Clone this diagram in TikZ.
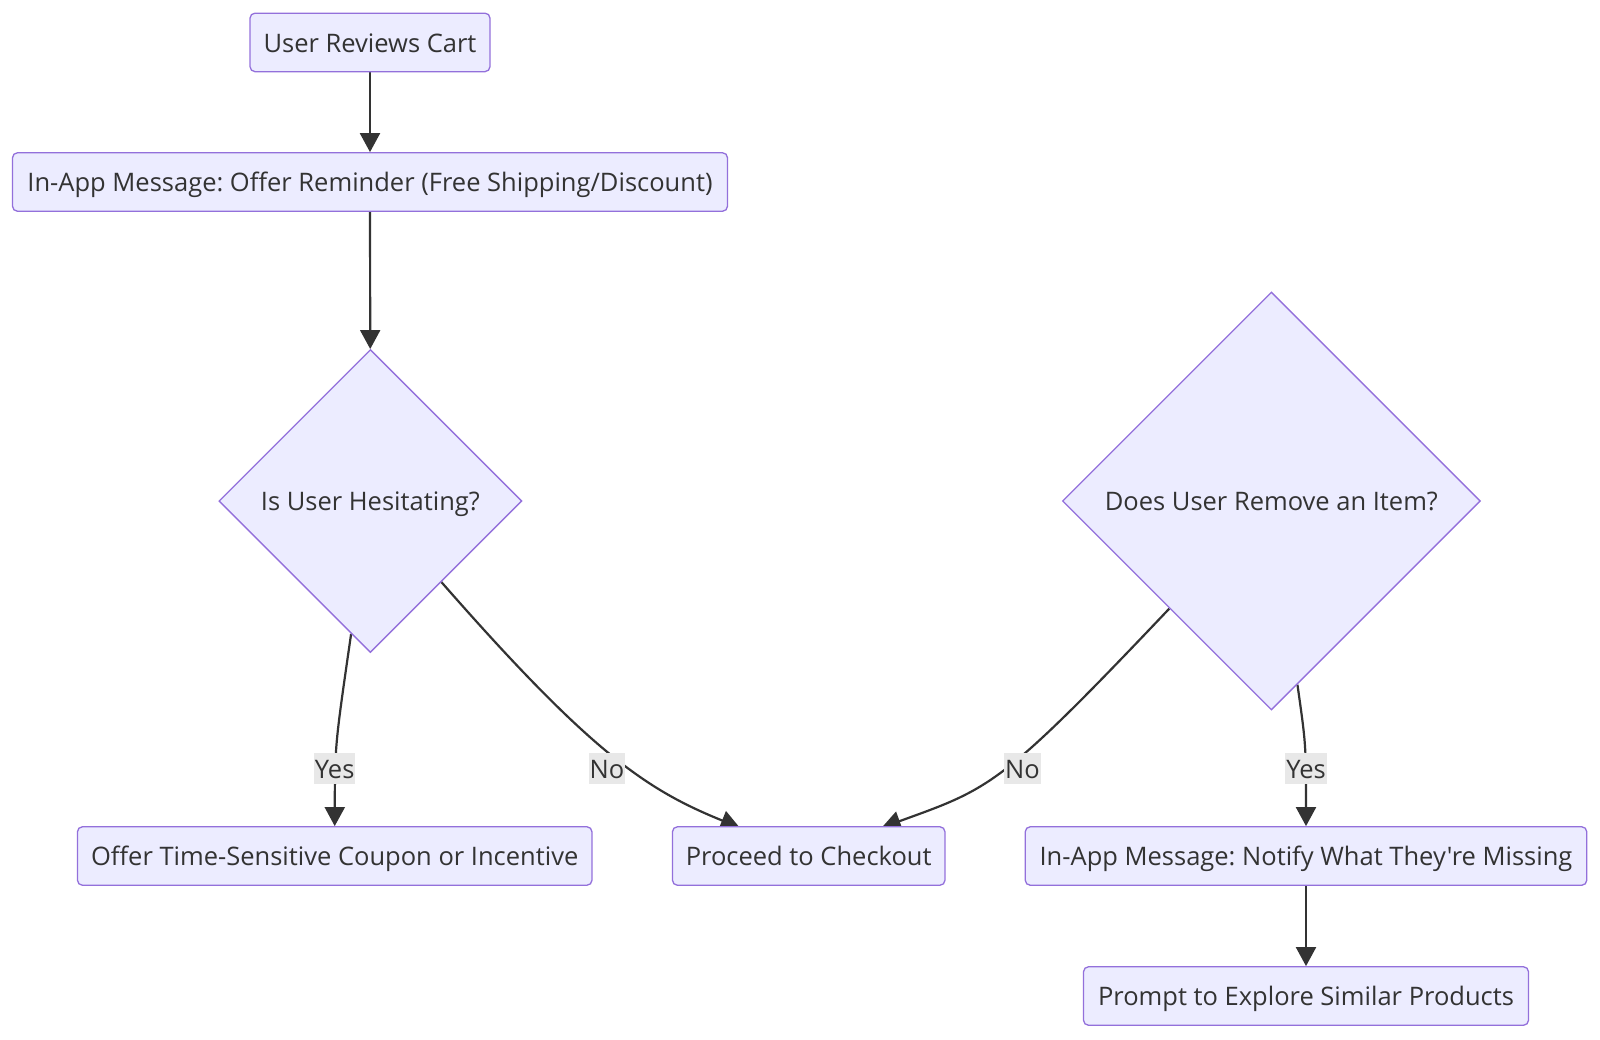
\documentclass[tikz,border=0pt]{standalone}
\usepackage{fontspec}
\setmainfont{Open Sans}[Ligatures=TeXOff]
\frenchspacing
\usetikzlibrary{shapes.geometric,arrows.meta,calc}
\pgfdeclarelayer{bg}
\pgfsetlayers{bg,main}
\definecolor{nodefill}{HTML}{ECECFF}
\definecolor{nodeborder}{HTML}{9370DB}
\definecolor{linecol}{HTML}{333333}
\definecolor{txtcol}{HTML}{333333}
\definecolor{lblbg}{HTML}{E8E8E8}
\tikzset{
  txt/.style={text=txtcol, font=\fontsize{25.5}{30}\selectfont, text height=25pt, text depth=5.6pt},
  box/.style={txt, draw=nodeborder, fill=nodefill, line width=1.3pt, rounded corners=5pt,
    minimum height=58.5pt, inner sep=0pt},
  decision/.style={txt, diamond, aspect=1, draw=nodeborder, fill=nodefill, line width=1.3pt,
    inner sep=0pt},
  edge/.style={draw=linecol, line width=2.2pt, -{Triangle[length=19pt,width=20pt]}},
  elabel/.style={txt, fill=lblbg, inner xsep=1pt, inner ysep=0pt}
}
\begin{document}
\begin{tikzpicture}[x=1pt,y=-1pt]
\useasboundingbox (0,0) rectangle (1600,1039);
\node[box, minimum width=240pt] (cart) at (370,42.4) {User Reviews Cart};
\node[box, minimum width=715pt] (offer) at (370,182) {In-App Message: Offer Reminder (Free Shipping/Discount)};
\node[decision, minimum width=303pt, minimum height=303pt] (d1) at (370.4,501) {Is User Hesitating?};
\node[decision, minimum width=418pt, minimum height=418pt] (d2) at (1271.4,501) {Does User Remove an Item?};
\node[box, minimum width=514.5pt] (coupon) at (334.7,856) {Offer Time-Sensitive Coupon or Incentive};
\node[box, minimum width=272.5pt] (chk) at (808.7,856) {Proceed to Checkout};
\node[box, minimum width=561.5pt] (notify) at (1306,856) {In-App Message: Notify What They're Missing};
\node[box, minimum width=445pt] (prompt) at (1306,996) {Prompt to Explore Similar Products};

\coordinate (chkL) at ($(chk.north)+(-69,1.5)$);
\coordinate (chkR) at ($(chk.north)+(73,1.5)$);

\begin{pgfonlayer}{bg}
\draw[edge] (cart) -- (offer);
\draw[edge] (offer) -- (d1);
\draw[edge] (d1) .. controls (335,745) .. (coupon.north);
\draw[edge] (d1) .. controls (592,754) and (647,790) .. (chkL);
\draw[edge] (d2) .. controls (1000,787) and (991,788) .. (chkR);
\draw[edge] (d2) .. controls (1306,745) .. (notify.north);
\draw[edge] (notify) -- (prompt);
\end{pgfonlayer}

\node[elabel] (l1) at (334.7,768.4) {Yes};
\node[elabel] (l2) at (607,768.4) {No};
\node[elabel] (l3) at (1022.4,768.4) {No};
\node[elabel] (l4) at (1306,768.4) {Yes};
\end{tikzpicture}
\end{document}
